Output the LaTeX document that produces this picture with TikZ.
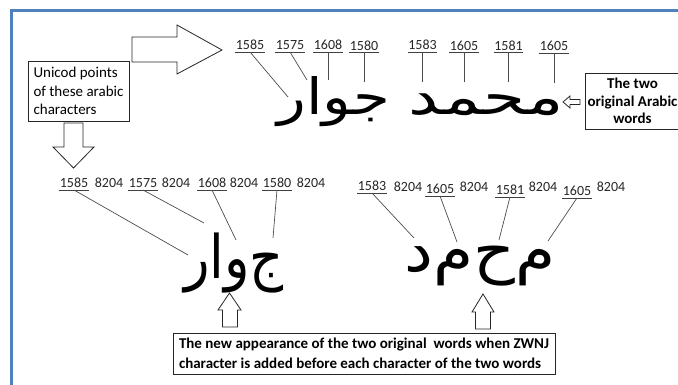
\documentclass[tikz,border=0pt]{standalone}
\usepackage{fontspec}
\setmainfont{Carlito}
\newfontfamily\arabicfont[Script=Arabic]{DejaVu Sans}
\TeXXeTstate=1
\usetikzlibrary{calc}
\definecolor{frameblue}{RGB}{79,129,189}
\tikzset{
  num/.style={font=\fontsize{14}{14}\selectfont, inner xsep=0.5pt, inner ysep=2pt,
    text height=9.5pt, text depth=0pt, anchor=south, text=black!85},
  uline/.style={draw=black!75, line width=0.8pt},
  conn/.style={draw=black!70, line width=0.7pt},
  hollow/.style={draw=black!85, line width=0.8pt, fill=white, line join=miter},
  labelbox/.style={draw=black!85, line width=0.8pt, inner sep=0pt},
  arabtop/.style={font=\arabicfont\fontsize{50}{50}\selectfont, inner sep=0pt, anchor=base},
  arabbot/.style={font=\arabicfont\fontsize{60}{60}\selectfont, inner sep=0pt, anchor=base},
}
\begin{document}
\begin{tikzpicture}[x=1pt,y=-1pt]
\useasboundingbox (0,0) rectangle (678,385);
\begin{scope}
\clip (0,0) rectangle (678,385);
\draw[frameblue, line width=3pt] (11,11) rectangle (720,420);
\end{scope}

% hollow arrows
\draw[hollow] (132,37) -- (177,37) -- (177,25) -- (222,50) -- (177,74) -- (177,62) -- (132,62) -- cycle;
\draw[hollow] (64,123) -- (83,123) -- (83,147) -- (94,147) -- (73.5,168) -- (53,147) -- (64,147) -- cycle;
\draw[hollow] (563,102) -- (570,96) -- (570,99.5) -- (580,99.5) -- (580,104.5) -- (570,104.5) -- (570,108) -- cycle;
\draw[hollow] (229.5,293) -- (241,310) -- (237.5,310) -- (237.5,327) -- (222.5,327) -- (222.5,310) -- (218,310) -- cycle;
\draw[hollow] (483,294) -- (494,312) -- (490.5,312) -- (490.5,329) -- (475.5,329) -- (475.5,312) -- (472,312) -- cycle;

% boxes
\node[labelbox, minimum width=101pt, minimum height=60pt, align=left,
  font=\fontsize{15}{18.5}\selectfont] (ubox) at (78.5,91)
  {Unicod points\\of these arabic\\characters};
\node[labelbox, minimum width=95pt, minimum height=56pt, align=center,
  font=\bfseries\fontsize{15}{17.5}\selectfont] (obox) at (632.5,101)
  {The two\\original Arabic\\words};
\node[labelbox, minimum width=382pt, minimum height=41pt, align=left,
  font=\bfseries\fontsize{15}{19.5}\selectfont] (nbox) at (364,353.5)
  {The new appearance of the two original\ \ words when ZWNJ\\character is added before each character of the two words};

% Arabic words
\node[arabtop] (w1) at (334,115) {\scalebox{1.19}[1]{\beginR جوار\endR}};
\node[arabtop] (w2) at (486,115) {\scalebox{1.36}[1]{\beginR محمد\endR}};
\node[arabbot] (w3) at (234,278) {\scalebox{0.88}[1]{\beginR ج^^^^200cو^^^^200cا^^^^200cر\endR}};
\node[arabbot] (w4) at (480,272) {\scalebox{1.08}[1]{\beginR م^^^^200cح^^^^200cم^^^^200cد\endR}};

% top numbers
\node[num] (t1) at (250,52) {1585};
\node[num] (t2) at (290,52) {1575};
\node[num] (t3) at (328,52) {1608};
\node[num] (t4) at (364,52.5) {1580};
\node[num] (t5) at (422.5,52) {1583};
\node[num] (t6) at (464,52.5) {1605};
\node[num] (t7) at (508.5,52.5) {1581};
\node[num] (t8) at (554,53) {1605};
\foreach \n in {t1,t2,t3,t4,t5,t6,t7,t8} {\draw[uline] (\n.south west) -- (\n.south east);}
\coordinate (a1) at (288,97);
\coordinate (a2) at (307,80);
\coordinate (a3) at (328,80);
\coordinate (a4) at (364,82);
\coordinate (a5) at (422.5,82);
\coordinate (a6) at (464,82);
\coordinate (a7) at (508.5,82);
\coordinate (a8) at (554,83);
\draw[conn] (t1.south) -- (a1);
\draw[conn] (t2.south) -- (a2);
\draw[conn] (t3.south) -- (a3);
\draw[conn] (t4.south) -- (a4);
\draw[conn] (t5.south) -- (a5);
\draw[conn] (t6.south) -- (a6);
\draw[conn] (t7.south) -- (a7);
\draw[conn] (t8.south) -- (a8);

% bottom left numbers
\node[num] (b1) at (74,190) {1585};
\node[num] (z1) at (109,189.5) {8204};
\node[num] (b2) at (143,190) {1575};
\node[num] (z2) at (176,189.5) {8204};
\node[num] (b3) at (212,190) {1608};
\node[num] (z3) at (244,189.5) {8204};
\node[num] (b4) at (277,190) {1580};
\node[num] (z4) at (311,189.5) {8204};
\foreach \n in {b1,b2,b3,b4} {\draw[uline] (\n.south west) -- (\n.south east);}
\coordinate (c1) at (188,255);
\coordinate (c2) at (204,223);
\coordinate (c3) at (236,240);
\coordinate (c4) at (273,238);
\draw[conn] (b1.south) -- (c1);
\draw[conn] (b2.south) -- (c2);
\draw[conn] (b3.south) -- (c3);
\draw[conn] (b4.south) -- (c4);

% bottom right numbers
\node[num] (r1) at (372,193) {1583};
\node[num] (y1) at (408,194) {8204};
\node[num] (r2) at (440,196) {1605};
\node[num] (y2) at (474,194) {8204};
\node[num] (r3) at (510,197) {1581};
\node[num] (y3) at (543,194) {8204};
\node[num] (r4) at (577,198) {1605};
\node[num] (y4) at (611,193.5) {8204};
\foreach \n in {r1,r2,r3,r4} {\draw[uline] (\n.south west) -- (\n.south east);}
\coordinate (d1) at (414,238);
\coordinate (d2) at (457,242);
\coordinate (d3) at (499,240);
\coordinate (d4) at (548,241);
\draw[conn] (r1.south) -- (d1);
\draw[conn] (r2.south) -- (d2);
\draw[conn] (r3.south) -- (d3);
\draw[conn] (r4.south) -- (d4);
\end{tikzpicture}
\end{document}
